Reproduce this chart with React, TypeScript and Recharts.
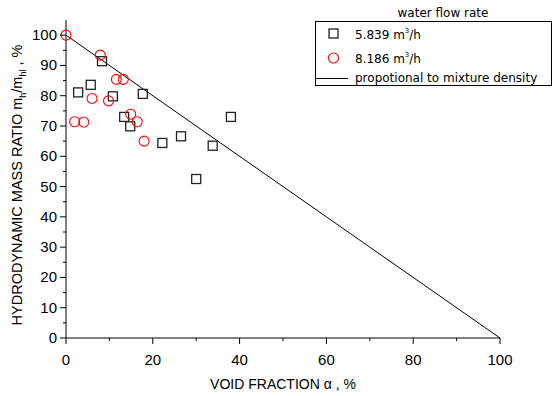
import React from "react";
import { ScatterChart, Scatter, XAxis, YAxis } from "recharts";

// water flow rate 5.839 m3/h (squares)
const flow5839 = [
  { x: 8.3, y: 91.4 },
  { x: 2.8, y: 81.1 },
  { x: 5.7, y: 83.6 },
  { x: 10.8, y: 79.8 },
  { x: 17.7, y: 80.6 },
  { x: 13.4, y: 73.0 },
  { x: 14.8, y: 69.9 },
  { x: 22.2, y: 64.4 },
  { x: 26.5, y: 66.6 },
  { x: 33.8, y: 63.5 },
  { x: 38.0, y: 73.0 },
  { x: 30.0, y: 52.5 },
];

// water flow rate 8.186 m3/h (circles)
const flow8186 = [
  { x: 0, y: 100 },
  { x: 7.9, y: 93.4 },
  { x: 11.6, y: 85.4 },
  { x: 13.2, y: 85.4 },
  { x: 6.0, y: 79.1 },
  { x: 9.8, y: 78.3 },
  { x: 2.0, y: 71.4 },
  { x: 4.1, y: 71.3 },
  { x: 14.9, y: 73.9 },
  { x: 16.4, y: 71.4 },
  { x: 18.0, y: 65.0 },
];

// proportional to mixture density
const densityLine = [
  { x: 0, y: 100 },
  { x: 100, y: 0 },
];

const xTicks = [0, 10, 20, 30, 40, 50, 60, 70, 80, 90, 100];
const yTicks = [0, 5, 10, 15, 20, 25, 30, 35, 40, 45, 50, 55, 60, 65, 70, 75, 80, 85, 90, 95, 100];

const FONT = "'Liberation Sans', Arial, sans-serif";
const LEGEND_FONT = "'DejaVu Sans', Verdana, sans-serif";

const Square = (props: any) => {
  const { cx, cy } = props;
  return (
    <rect x={cx - 4.5} y={cy - 4.5} width={9} height={9} fill="none" stroke="#222" strokeWidth={1.3} />
  );
};

const Circle = (props: any) => {
  const { cx, cy } = props;
  return <circle cx={cx} cy={cy} r={5} fill="none" stroke="#ff0000" strokeWidth={1.1} />;
};

const XTick = (props: any) => {
  const { x, y, payload } = props;
  const major = payload.value % 20 === 0;
  return (
    <g>
      <line x1={x} x2={x} y1={y - 8} y2={y - 8 + (major ? 6 : 3)} stroke="#000" />
      {major && (
        <text x={x} y={y + 19} textAnchor="middle" fontSize={15} fontFamily={FONT} fill="#000">
          {payload.value}
        </text>
      )}
    </g>
  );
};

const YTick = (props: any) => {
  const { x, y, payload } = props;
  const major = payload.value % 10 === 0;
  return (
    <g>
      <line x1={x + 8} x2={x + 8 - (major ? 6 : 3)} y1={y} y2={y} stroke="#000" />
      {major && (
        <text x={x - 1} y={y + 5} textAnchor="end" fontSize={15} fontFamily={FONT} fill="#000">
          {payload.value}
        </text>
      )}
    </g>
  );
};

const LegendBox = () => (
  <svg width={555} height={90} style={{ position: "absolute", left: 0, top: 0, pointerEvents: "none" }}>
    <text x={443} y={17} textAnchor="middle" fontSize={12} fontFamily={LEGEND_FONT}>
      water flow rate
    </text>
    <rect x={315.5} y={21.5} width={236} height={64} fill="none" stroke="#000" />
    <rect x={329} y={29} width={9} height={9} fill="none" stroke="#222" strokeWidth={1.3} />
    <circle cx={333.5} cy={58} r={5} fill="none" stroke="#ff0000" strokeWidth={1.1} />
    <line x1={316} x2={348} y1={78.5} y2={78.5} stroke="#000" />
    <text x={355} y={39} fontSize={12} fontFamily={LEGEND_FONT}>
      5.839 m<tspan dy={-6} fontSize={7}>3</tspan><tspan dy={6}>/h</tspan>
    </text>
    <text x={355} y={63} fontSize={12} fontFamily={LEGEND_FONT}>
      8.186 m<tspan dy={-6} fontSize={7}>3</tspan><tspan dy={6}>/h</tspan>
    </text>
    <text x={355} y={82} fontSize={12} fontFamily={LEGEND_FONT}>
      propotional to mixture density
    </text>
  </svg>
);

export default function App() {
  return (
    <div style={{ position: "absolute", left: 0, top: 0, width: 555, height: 396, background: "#fff" }}>
      <ScatterChart width={555} height={396} margin={{ top: 20, right: 55, bottom: 0, left: 0 }}>
        <XAxis
          type="number"
          dataKey="x"
          domain={[0, 100]}
          ticks={xTicks}
          interval={0}
          tickLine={false}
          tick={<XTick />}
          axisLine={{ stroke: "#000" }}
          height={58}
          label={{
            value: "VOID FRACTION α , %",
            position: "insideBottom",
            offset: 7,
            fontSize: 14,
            fontFamily: FONT,
            fill: "#000",
          }}
        />
        <YAxis
          type="number"
          dataKey="y"
          domain={[0, 105]}
          ticks={yTicks}
          interval={0}
          tickLine={false}
          tick={<YTick />}
          axisLine={{ stroke: "#000" }}
          width={66}
          label={(p: any) => {
            const vb = p.viewBox;
            const cx = 22;
            const cy = vb.y + vb.height / 2 + 6;
            return (
              <text
                x={cx}
                y={cy}
                transform={`rotate(-90 ${cx} ${cy})`}
                textAnchor="middle"
                fontSize={14.5}
                fontFamily={FONT}
                fill="#000"
              >
                HYDRODYNAMIC MASS RATIO m<tspan dy={4} fontSize={9}>h</tspan>
                <tspan dy={-4}>/m</tspan>
                <tspan dy={4} fontSize={9}>hl</tspan>
                <tspan dy={-4}> , %</tspan>
              </text>
            );
          }}
        />
        <Scatter
          data={densityLine}
          line={{ stroke: "#000", strokeWidth: 1 }}
          shape={() => null}
          isAnimationActive={false}
          legendType="none"
        />
        <Scatter data={flow5839} shape={<Square />} isAnimationActive={false} />
        <Scatter data={flow8186} shape={<Circle />} isAnimationActive={false} />
      </ScatterChart>
      <LegendBox />
    </div>
  );
}
